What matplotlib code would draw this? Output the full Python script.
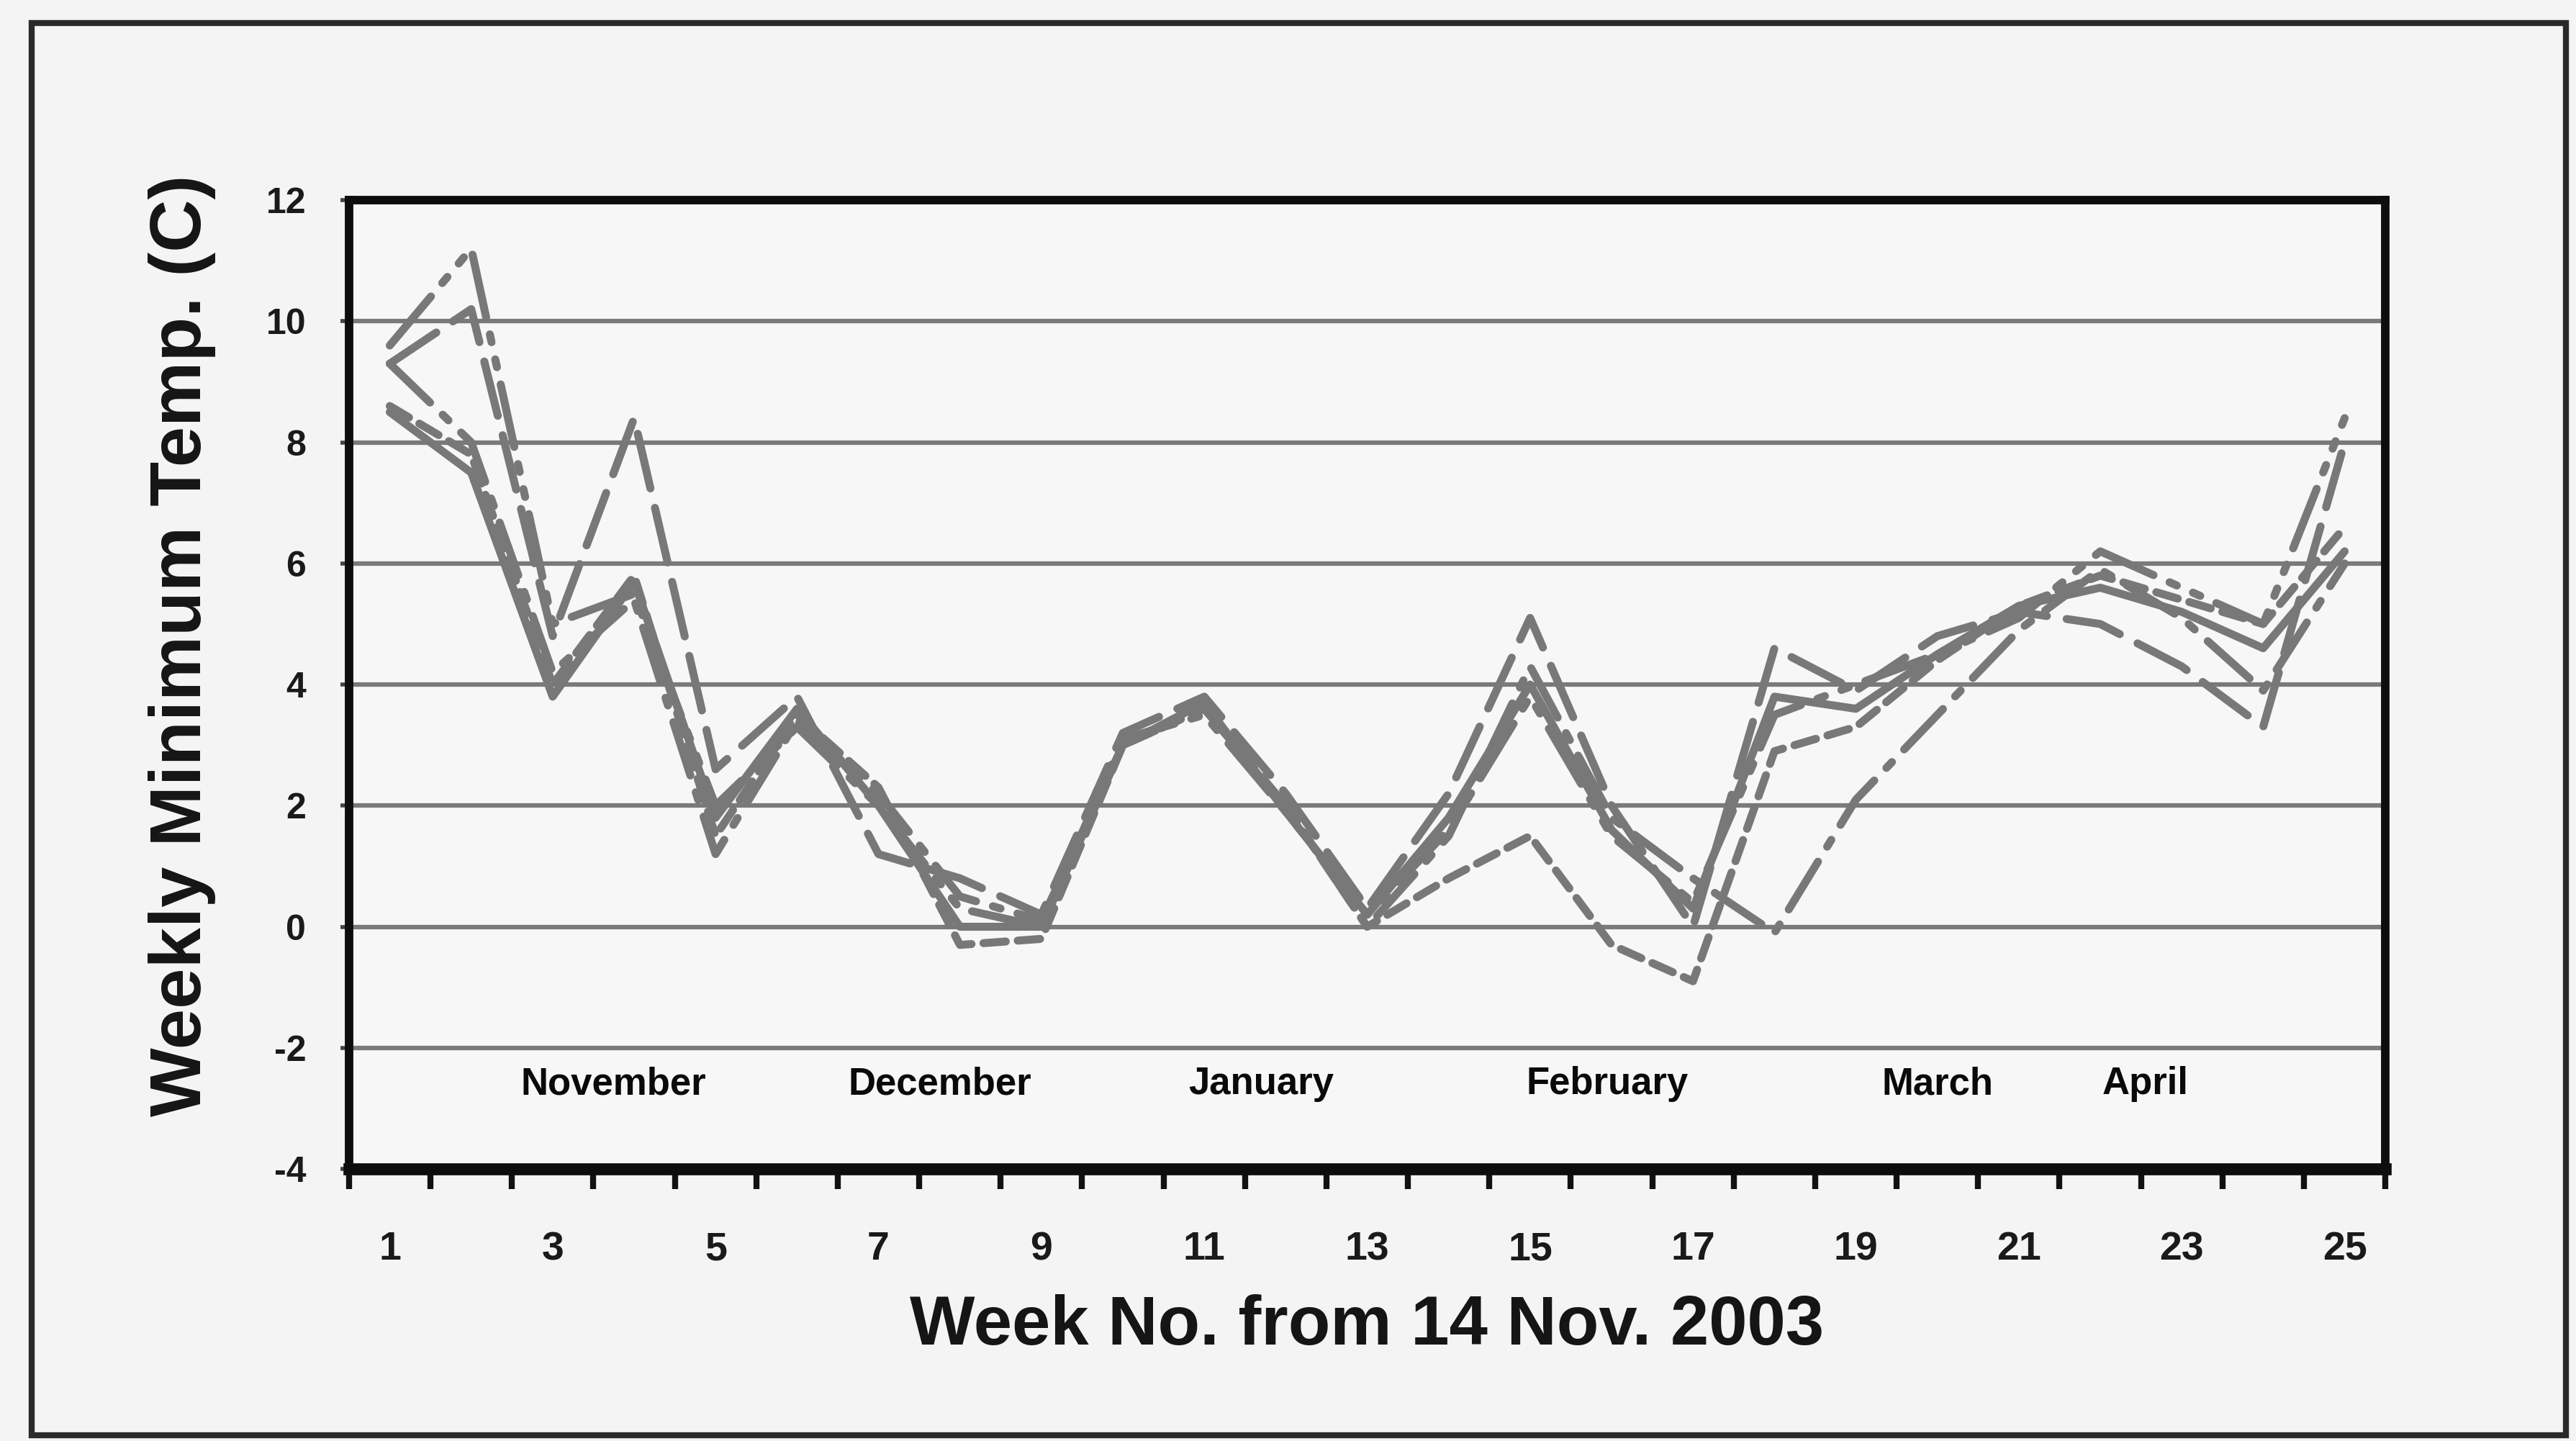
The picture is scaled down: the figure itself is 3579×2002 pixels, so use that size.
import matplotlib
matplotlib.use("Agg")
import matplotlib.pyplot as plt
from matplotlib.patches import Rectangle
import numpy as np

plt.rcParams["font.family"] = ["Liberation Sans", "DejaVu Sans"]

# weekly minimum temperature (C), weeks counted from 14 Nov 2003
WEEKS = list(range(1, 26))

SITE_A = [8.5, 7.5, 3.8, 5.7, 1.8, 3.6, 2.0, 0.0, 0.0, 3.0, 3.7, 1.9, 0.2,
          1.8, 4.0, 1.6, 0.3, 3.8, 3.6, 4.5, 5.3, 5.6, 5.2, 4.6, 6.2]
SITE_B = [9.3, 10.2, 4.8, 8.4, 2.6, 3.8, 1.2, 0.8, 0.2, 3.2, 3.8, 2.2, 0.3,
          2.2, 5.1, 2.0, 0.0, 4.6, 3.9, 4.8, 5.2, 5.0, 4.3, 3.3, 8.0]
SITE_C = [9.3, 8.0, 4.2, 5.4, 1.2, 3.4, 2.2, 0.5, 0.1, 3.0, 3.6, 2.0, 0.0,
          1.5, 4.3, 1.8, 0.8, -0.1, 2.1, 3.5, 4.9, 5.9, 5.1, 3.9, 6.0]
SITE_D = [8.6, 7.8, 4.0, 5.8, 1.5, 3.5, 2.3, -0.3, -0.2, 3.0, 3.6, 2.0, 0.0,
          0.8, 1.5, -0.3, -0.9, 2.9, 3.3, 4.4, 5.3, 5.8, 5.4, 5.0, 6.6]
SITE_E = [9.6, 11.2, 5.0, 5.5, 2.0, 3.3, 2.0, 0.3, 0.0, 3.1, 3.5, 1.9, 0.2,
          1.6, 3.8, 1.5, 0.4, 3.5, 4.0, 4.5, 5.1, 6.2, 5.6, 5.0, 8.4]

MONTHS = ["November", "December", "January", "February", "March", "April"]
MONTH_WEEK = [3.75, 7.75, 11.7, 15.95, 20.0, 22.55]

GREY = "#787878"
series = [
    (SITE_A, "-"),
    (SITE_B, (0, (7, 2.5))),
    (SITE_C, (0, (7, 2.2, 1, 2.2))),
    (SITE_D, (0, (2.8, 1.5))),
    (SITE_E, (0, (8, 2.2, 1, 2.2, 1, 2.2))),
]

fig = plt.figure(figsize=(35.79, 20.02), dpi=100)
fig.patch.set_facecolor("#f4f4f4")

# outer box around the whole figure
fig.patches.append(Rectangle((44 / 3579, 8 / 2002), 3521 / 3579, 1962 / 2002,
                             transform=fig.transFigure, fill=False,
                             edgecolor="#2a2a2a", linewidth=6))

ax = fig.add_axes([0.1355, 0.1888, 0.7905, 0.6723])
ax.set_facecolor("#f7f7f7")

for vals, ls in series:
    ax.plot(WEEKS, vals, color=GREY, linestyle=ls, linewidth=8,
            solid_capstyle="round", dash_capstyle="round", zorder=3)

# horizontal grid
for yv in range(-2, 12, 2):
    ax.axhline(yv, color="#7a7a7a", linewidth=4.5, zorder=1)

ax.set_xlim(0.5, 25.5)
ax.set_ylim(-4, 12)

ax.set_xticks(np.arange(0.5, 26, 1))
ax.set_xticklabels([])
ax.set_xticks(WEEKS[::2], minor=True)
ax.set_xticklabels([str(w) for w in WEEKS[::2]], minor=True,
                   fontsize=40, fontweight="bold", color="#1a1a1a")
ax.tick_params(axis="x", which="major", direction="out", length=20,
               width=6, color="#111111")
ax.tick_params(axis="x", which="minor", length=0, pad=62)

ax.set_yticks(range(-4, 13, 2))
ax.set_yticklabels([str(v) for v in range(-4, 13, 2)], fontsize=36,
                   fontweight="bold", color="#1a1a1a")
ax.tick_params(axis="y", direction="out", length=9, width=4,
               color="#444444", pad=34)

for side in ["left", "top", "right"]:
    ax.spines[side].set_linewidth(8.5)
    ax.spines[side].set_color("#0d0d0d")
ax.spines["bottom"].set_linewidth(12)
ax.spines["bottom"].set_color("#0d0d0d")

for name, wk in zip(MONTHS, MONTH_WEEK):
    ax.text(wk, -2.6, name, ha="center", va="center", fontsize=38,
            fontweight="bold", color="#0a0a0a")

ax.set_xlabel("Week No. from 14 Nov. 2003", fontsize=69, fontweight="bold",
              color="#151515", va="center")
ax.xaxis.set_label_coords(0.5, -0.163)
ax.set_ylabel("Weekly Minimum Temp. (C)", fontsize=73, fontweight="bold",
              color="#151515", va="center")
ax.yaxis.set_label_coords(-0.082, 0.54)

fig.savefig("out.png", dpi=100, facecolor=fig.get_facecolor())
